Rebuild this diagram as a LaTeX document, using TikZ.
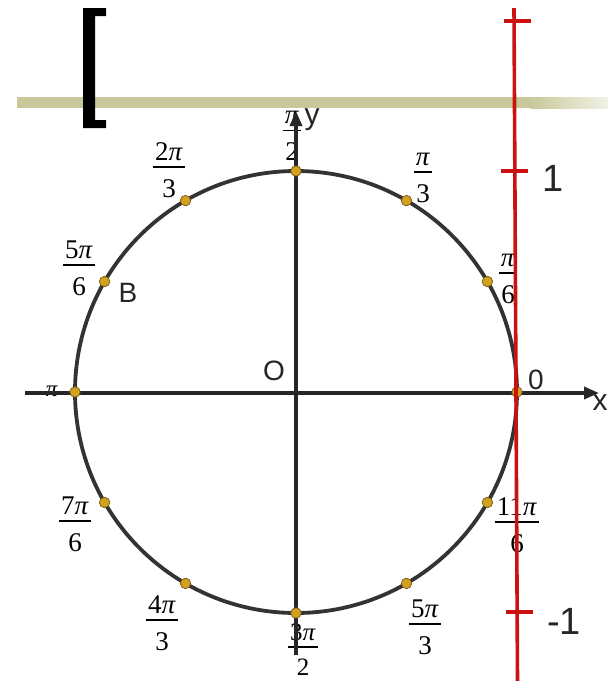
\documentclass[tikz,border=0pt]{standalone}
\usepackage{fontspec}
\setmainfont{Liberation Serif}
\newfontfamily\labelsans{Liberation Sans}
\usepackage{tikz}
\usetikzlibrary{arrows.meta, calc}
\definecolor{barolive}{HTML}{C8C89A}
\definecolor{tangentred}{HTML}{CC1111}
\definecolor{dotgold}{HTML}{D4A020}
\definecolor{circlegray}{HTML}{333333}
\newcommand{\frc}[2]{{\setlength{\arrayrulewidth}{1.6pt}%
    \begin{tabular}{@{\hspace{2pt}}c@{\hspace{2pt}}}#1\\[-4pt]\hline\rule{0pt}{1.1em}#2\end{tabular}}}

\begin{document}
\begin{tikzpicture}[
        x=1pt,
        y=-1pt,
        unitcircle/.style={
            draw=circlegray,
            line width=3.8pt
        },
        axisline/.style={
            draw=black!85,
            line width=3.4pt,
            -{Triangle[length=15pt,width=12pt]}
        },
        tangentline/.style={
            draw=tangentred,
            line width=3.6pt
        },
        dotmark/.style={
            circle,
            fill=dotgold,
            draw=dotgold!55!black,
            line width=0.7pt,
            inner sep=0pt,
            minimum size=10.5pt
        },
        fraclabel/.style={
            font=\fontsize{27}{32}\selectfont,
            inner sep=0pt
        },
        sanslabel/.style={
            font=\labelsans\fontsize{28}{32}\selectfont,
            text=black!85,
            inner sep=0pt
        }
    ]

        \useasboundingbox[fill=white]
            (0,0) rectangle (608,681);

        % Kopfzeile: Balken und Klammer
        \fill[barolive]
            (17,97) rectangle (530,108);
        \shade[left color=barolive, right color=barolive!25]
            (530,97) rectangle (608,108);
        \fill[black]
            (83,8) -- (106,8) -- (106,16) -- (95,16) --
            (95,120) -- (106,120) -- (106,128) -- (83,128) -- cycle;

        % Mittelpunkt und Achsenenden
        \coordinate (O) at (296,392);
        \coordinate (xstart) at (25,393);
        \coordinate (xend) at (599,393);
        \coordinate (ystart) at (296,655);
        \coordinate (yend) at (296,111);

        % Winkelbeschriftungen
        \node[fraclabel] (lbl90) at (292,136)
            {\frc{\textit{π}}{2}};
        \node[fraclabel] (lbl60) at (423,177.5)
            {\frc{\textit{π}}{3}};
        \node[fraclabel] (lbl30) at (508,278.5)
            {\frc{\textit{π}}{6}};
        \node[fraclabel] (lbl120) at (169,172.5)
            {\frc{2\textit{π}}{3}};
        \node[fraclabel] (lbl150) at (79,270.5)
            {\frc{5\textit{π}}{6}};
        \node[fraclabel, font=\fontsize{23}{27}\selectfont] (lbl180) at (52,391)
            {\textit{π}};
        \node[fraclabel] (lbl210) at (75,526.5)
            {\frc{7\textit{π}}{6}};
        \node[fraclabel] (lbl240) at (162,625.5)
            {\frc{4\textit{π}}{3}};
        \node[fraclabel, font=\fontsize{25}{30}\selectfont] (lbl270) at (303,652)
            {\frc{3\textit{π}}{2}};
        \node[fraclabel] (lbl300) at (425,629.5)
            {\frc{5\textit{π}}{3}};
        \node[fraclabel] (lbl330) at (517,527.5)
            {\frc{11\textit{π}}{6}};

        % Achsen
        \draw[axisline] (xstart) -- (xend);
        \draw[axisline] (ystart) -- (yend);

        % Einheitskreis
        \draw[unitcircle] (O) circle[radius=221pt];

        % Punkte auf dem Kreis
        \node[dotmark] (p0) at ($(O)+(0:221pt)$) {};
        \node[dotmark] (p30) at ($(O)+(30:221pt)$) {};
        \node[dotmark] (p60) at ($(O)+(60:221pt)$) {};
        \node[dotmark] (p90) at ($(O)+(90:221pt)$) {};
        \node[dotmark] (p120) at ($(O)+(120:221pt)$) {};
        \node[dotmark] (p150) at ($(O)+(150:221pt)$) {};
        \node[dotmark] (p180) at ($(O)+(180:221pt)$) {};
        \node[dotmark] (p210) at ($(O)+(210:221pt)$) {};
        \node[dotmark] (p240) at ($(O)+(240:221pt)$) {};
        \node[dotmark] (p270) at ($(O)+(270:221pt)$) {};
        \node[dotmark] (p300) at ($(O)+(300:221pt)$) {};
        \node[dotmark] (p330) at ($(O)+(330:221pt)$) {};

        % Tangente mit Skala
        \coordinate (rtop) at (514,8);
        \coordinate (rbot) at (517.5,681);
        \draw[tangentline] (rtop) -- (rbot);
        \draw[tangentline] (504,21) -- (531,21);
        \draw[tangentline] (501,171) -- (528,171);
        \draw[tangentline] (506,612) -- (533,612);

        % Buchstaben und Zahlen
        \node[sanslabel, font=\labelsans\fontsize{38}{44}\selectfont] (one) at (553,178)
            {1};
        \node[sanslabel, font=\labelsans\fontsize{38}{44}\selectfont] (minusone) at (564,621)
            {-1};
        \node[sanslabel] (zero) at (536,380)
            {0};
        \node[sanslabel] (origin) at (274,371)
            {O};
        \node[sanslabel, font=\labelsans\fontsize{30}{34}\selectfont] (xlabel) at (600,403)
            {x};
        \node[sanslabel, font=\labelsans\fontsize{30}{34}\selectfont] (ylabel) at (312,120)
            {y};
        \node[sanslabel] (pointb) at (128,293)
            {B};

    \end{tikzpicture}
\end{document}
